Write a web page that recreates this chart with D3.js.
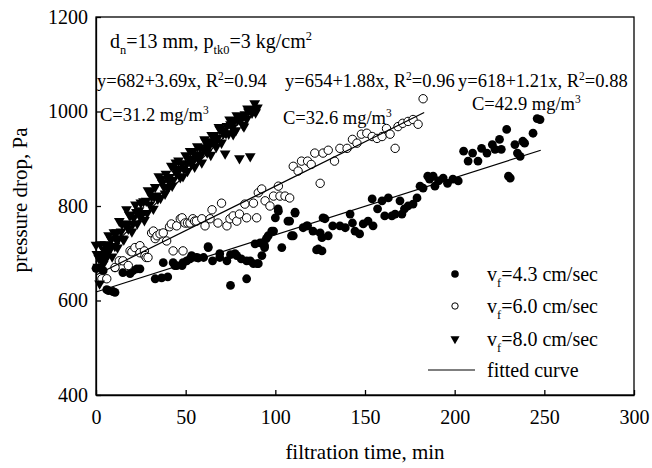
<!DOCTYPE html>
<html>
<head>
<meta charset="utf-8">
<script src="https://cdn.jsdelivr.net/npm/d3@7"></script>
<style>
  body { margin: 0; background: #fff; }
  svg text { font-family: "Liberation Serif", "Times New Roman", serif; fill: #000; }
  .axis path, .axis line { stroke: #000; stroke-width: 1.3; }
</style>
</head>
<body>
<div id="chart"></div>
<script>
// axis ticks
var xTicks = [0, 50, 100, 150, 200, 250, 300];
var yTicks = [400, 600, 800, 1000, 1200];

// v_f = 4.3 cm/sec, filled circles [time, pressure drop]
var vf43 = [[0,668],[2,669],[4,663],[6,623],[7,621],[9.5,619],[10.6,617],[10.6,669],[15,659],[19,657],
  [20.6,663],[22.8,667],[24.5,667],[33,646],[36.6,648],[37.5,680],[40,650],[43,680],[44,674],[45,674],
  [48,674],[48.5,680],[50.6,684],[52.4,688],[53.3,695],[56,691],[57,690],[60,691],[62.5,714],[62.6,712],
  [65,684],[69,691],[69,699],[73,684],[75,632],[75,697],[77.5,699],[78.5,695],[81,688],[84,646],
  [84,684],[86,684],[87.8,678],[88.7,720],[90,678],[90.5,678],[91.5,722],[92.5,695],[94,712],[94,716],
  [95,731],[96,737],[98,747],[99,747],[100,775],[101.5,794],[101.7,789],[103.6,712],[107,768],[108,768],
  [109,737],[110,737],[111,785],[111,787],[115.5,754],[117.5,758],[118,758],[121,747],[123,707],[124,709],
  [125,743],[126,733],[126,705],[126.6,775],[127.7,773],[129.5,737],[132,758],[136,758],[139,754],[141.7,783],
  [143,764],[144.4,747],[147,741],[149,762],[151.7,768],[154,815],[154.5,758],[157,794],[159.5,811],[161,779],
  [163,817],[165,779],[166.8,783],[169.5,811],[170.6,783],[172,794],[174,800],[176.8,804],[179,817],[180.7,842],
  [182.4,838],[185,863],[186,857],[188,863],[189,842],[191,853],[193.6,859],[196,848],[199,857],[202,853],
  [205,916],[207.5,895],[210,912],[213,895],[215,922],[218,912],[221,930],[222.5,920],[225,941],[226,920],
  [229,962],[230,863],[231,859],[233.6,930],[235,912],[236.5,905],[238,937],[239,933],[243.7,954],[246,985],
  [247.6,983]];

// v_f = 6.0 cm/sec, open circles
var vf60 = [[3.3,646],[6,646],[10.6,670],[13,684],[15,684],[18,674],[19,705],[20,703],[21.7,712],[24.5,716],
  [24.5,701],[27,705],[27.3,695],[28,691],[29,691],[31,743],[32,747],[33,731],[34,737],[35.7,741],
  [37.5,743],[39.4,726],[41,756],[42,762],[43,705],[45,758],[47,773],[48,775],[48.5,705],[49.6,764],
  [51,764],[52.4,764],[54,773],[55,768],[56,768],[59,773],[60.8,758],[63.6,773],[64.7,792],[68,764],
  [70,806],[73,758],[74.7,773],[76.5,779],[78.5,768],[80,783],[83,804],[84,775],[87.8,806],[89.6,775],
  [90.5,828],[92.4,836],[94.3,811],[97,800],[99,821],[101.7,842],[102.6,821],[105.4,821],[108,817],[110,884],
  [112.7,874],[114.6,895],[118,895],[120,888],[122,912],[125,848],[126.6,912],[129.5,918],[133,895],[136,922],
  [140,922],[143,941],[145.5,933],[148,952],[151,954],[154,947],[156.7,943],[159.5,947],[162,964],[164,952],
  [166.8,922],[168.4,968],[171,975],[174,979],[176.8,983],[179.6,973],[182.4,1027]];

// v_f = 8.0 cm/sec, down triangles
var vf80 = [[0,718],[0.5,698],[1,671],[1.5,690],[2,636],[2.5,719],[3,698],[3.5,685],[4,677],[4.5,707],
  [5,719],[5.5,688],[6,696],[6.5,718],[7,738],[7.5,706],[8,714],[8.5,729],[9,693],[10,744],
  [10.5,715],[11,731],[11.5,744],[12,712],[12.5,730],[13,768],[14,746],[14.5,762],[15,731],[15.5,729],
  [16,763],[17,793],[17.5,761],[18,752],[18.5,782],[19,780],[20,746],[20.5,762],[21,775],[22,803],
  [22.5,787],[23,763],[24,791],[24.5,778],[25,807],[26,784],[26.5,810],[27,770],[28,811],[28.5,785],
  [29,833],[30,803],[30.5,831],[31,820],[32,794],[32.5,820],[33,840],[34,822],[34.5,815],[35,863],
  [36,817],[36.5,857],[37,849],[38,840],[38.5,826],[39,868],[40,838],[40.5,853],[41,861],[42,885],
  [42.5,843],[43,855],[44,878],[44.5,892],[45,868],[46,896],[46.5,878],[47,861],[48,889],[48.5,863],
  [49,879],[50,907],[50.5,890],[51,874],[52,900],[52.5,916],[53,890],[54,915],[54.5,897],[55,883],
  [56,909],[56.5,926],[57,900],[58,924],[58.5,908],[59,892],[60,919],[60.5,941],[61,937],[62,913],
  [62.5,923],[63,935],[64,908],[64.5,950],[65,936],[66,950],[66.5,935],[67,925],[68,945],[68.5,967],
  [69,963],[70,934],[70.5,960],[71,954],[72,911],[72.5,954],[73,969],[74,953],[74.5,983],[75,973],
  [76,966],[76.5,952],[77,979],[78,960],[78.5,992],[79,982],[80,901],[80.5,989],[81,983],[82,971],
  [82.5,968],[83,994],[84,984],[84.5,1006],[85,1000],[86,905],[86.5,1003],[87,997],[88,1005],[88.5,1017],
  [89,998],[90,1008]];

// fitted curves: intercept, slope, last time (from the annotations)
var fitIntercept = [618, 654, 682];
var fitSlope = [1.21, 1.88, 3.69];
var fitEnd = [248, 183, 90];

var legendLabels = ["4.3 cm/sec", "6.0 cm/sec", "8.0 cm/sec"];

var width = 652, height = 468;

var svg = d3.select("#chart").append("svg")
    .attr("width", width)
    .attr("height", height);

var x = d3.scaleLinear().domain([0, 300]).range([96, 634]);
var y = d3.scaleLinear().domain([400, 1200]).range([395, 17]);

// frame
svg.append("rect")
    .attr("x", x(0)).attr("y", y(1200))
    .attr("width", x(300) - x(0)).attr("height", y(400) - y(1200))
    .attr("fill", "none").attr("stroke", "#000").attr("stroke-width", 1.3);

// X axis
var xAxis = svg.append("g")
    .attr("class", "axis")
    .attr("transform", "translate(0," + y(400) + ")")
    .call(d3.axisBottom(x).tickValues(xTicks).tickFormat(d3.format("d"))
        .tickSizeInner(-5).tickSizeOuter(0).tickPadding(15));
xAxis.selectAll("text").style("font-size", "20px");

// Y axis
var yAxis = svg.append("g")
    .attr("class", "axis")
    .attr("transform", "translate(" + x(0) + ",0)")
    .call(d3.axisLeft(y).tickValues(yTicks).tickFormat(d3.format("d"))
        .tickSizeInner(-5).tickSizeOuter(0).tickPadding(8));
yAxis.selectAll("text").style("font-size", "20px");

svg.append("text")
    .attr("x", 365).attr("y", 459)
    .style("text-anchor", "middle").style("font-size", "21px")
    .text("filtration time, min");

svg.append("text")
    .attr("transform", "rotate(-90)")
    .attr("x", -200).attr("y", 27)
    .style("text-anchor", "middle").style("font-size", "21px")
    .text("pressure drop, Pa");

// text with sub / superscripts; parts: [string, "n" | "sub" | "sup"]
function richText(px, py, size, parts) {
    var t = svg.append("text").attr("x", px).attr("y", py).style("font-size", size + "px");
    var shift = 0;
    parts.forEach(function (p) {
        var target = p[1] == "sub" ? size * 0.3 : p[1] == "sup" ? -size * 0.38 : 0;
        t.append("tspan")
            .attr("dy", target - shift)
            .style("font-size", p[1] == "n" ? size + "px" : (size * 0.62) + "px")
            .text(p[0]);
        shift = target;
    });
    return t;
}

var triangle = d3.symbol().type(d3.symbolTriangle).size(50);

function drawTri(sel) {
    sel.attr("d", triangle)
        .attr("fill", "#000");
}

// markers
svg.append("g").selectAll("circle")
    .data(vf43).enter().append("circle")
    .attr("cx", function (d) { return x(d[0]); })
    .attr("cy", function (d) { return y(d[1]); })
    .attr("r", 4.4)
    .attr("fill", "#000");

svg.append("g").selectAll("circle")
    .data(vf60).enter().append("circle")
    .attr("cx", function (d) { return x(d[0]); })
    .attr("cy", function (d) { return y(d[1]); })
    .attr("r", 4.2)
    .attr("fill", "#fff")
    .attr("stroke", "#000")
    .attr("stroke-width", 1);

svg.append("g").selectAll("path")
    .data(vf80).enter().append("path")
    .attr("transform", function (d) { return "translate(" + x(d[0]) + "," + y(d[1]) + ") rotate(180)"; })
    .call(drawTri);

// fitted lines
var fitLine = d3.line()
    .x(function (d) { return x(d[0]); })
    .y(function (d) { return y(d[1]); });

fitIntercept.forEach(function (a, i) {
    var pts = [[0, a], [fitEnd[i], a + fitSlope[i] * fitEnd[i]]];
    svg.append("path")
        .datum(pts)
        .attr("d", fitLine)
        .attr("fill", "none")
        .attr("stroke", "#000")
        .attr("stroke-width", 1.2);
});

// annotations
richText(110, 48, 20, [["d", "n"], ["n", "sub"], ["=13 mm, p", "n"], ["tk0", "sub"], ["=3 kg/cm", "n"], ["2", "sup"]]);
richText(97, 87, 18.5, [["y=682+3.69x, R", "n"], ["2", "sup"], ["=0.94", "n"]]);
richText(100, 121, 18.5, [["C=31.2 mg/m", "n"], ["3", "sup"]]);
richText(285, 87, 18.5, [["y=654+1.88x, R", "n"], ["2", "sup"], ["=0.96", "n"]]);
richText(283, 124, 18.5, [["C=32.6 mg/m", "n"], ["3", "sup"]]);
richText(458, 87, 18.5, [["y=618+1.21x, R", "n"], ["2", "sup"], ["=0.88", "n"]]);
richText(472, 110, 18.5, [["C=42.9 mg/m", "n"], ["3", "sup"]]);

// legend
var legY = [274, 306, 339, 370];
var lg = svg.append("g");
lg.append("circle").attr("cx", 455).attr("cy", legY[0]).attr("r", 3.8).attr("fill", "#000");
lg.append("circle").attr("cx", 455).attr("cy", legY[1]).attr("r", 3.2)
    .attr("fill", "#fff").attr("stroke", "#000").attr("stroke-width", 1);
lg.append("path").attr("transform", "translate(455," + legY[2] + ") rotate(180) scale(0.85)").call(drawTri);
lg.append("line").attr("x1", 428).attr("x2", 475).attr("y1", legY[3]).attr("y2", legY[3])
    .attr("stroke", "#000").attr("stroke-width", 1.2);

legendLabels.forEach(function (l, i) {
    richText(487, legY[i] + 7, 20, [["v", "n"], ["f", "sub"], ["=" + l, "n"]]);
});
richText(487, legY[3] + 7, 20, [["fitted curve", "n"]]);
</script>
</body>
</html>
